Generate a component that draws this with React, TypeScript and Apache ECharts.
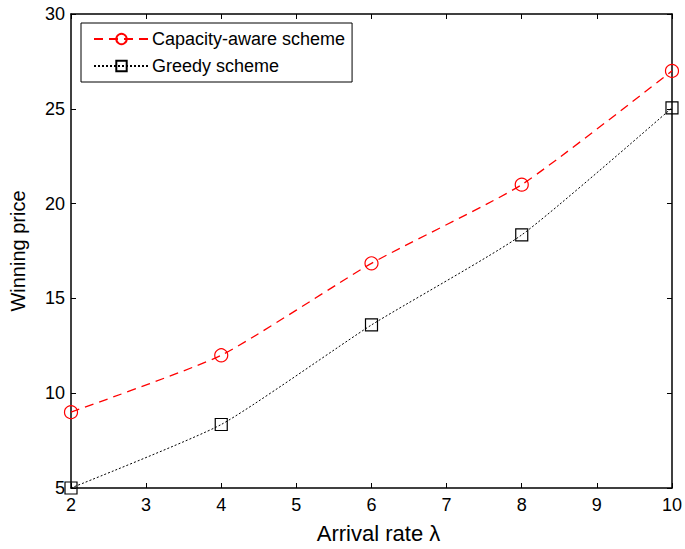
import React, { useEffect, useRef } from "react";
import * as echarts from "echarts";

const xValues = [2, 4, 6, 8, 10];
const capacityAware = [9, 12, 16.85, 21, 27];
const greedy = [5, 8.35, 13.6, 18.35, 25.05];
const seriesNames = ["Capacity-aware scheme", "Greedy scheme"];

export default function App() {
  const ref = useRef<HTMLDivElement>(null);
  useEffect(() => {
    if (!ref.current) return;
    const chart = echarts.init(ref.current, null, { renderer: "svg" });
    const font = "Liberation Sans, Arial, sans-serif";
    const axisCommon = {
      axisLine: { show: true, onZero: false, lineStyle: { color: "#000", width: 1.5 } },
      axisTick: { show: true, inside: true, length: 5, lineStyle: { color: "#000", width: 1 } },
      splitLine: { show: false },
    };
    chart.setOption({
      animation: false,
      backgroundColor: "#fff",
      grid: { left: 71, right: 11, top: 14, bottom: 60 },
      legend: {
        left: 81,
        top: 23,
        orient: "vertical",
        backgroundColor: "#fff",
        borderColor: "#000",
        borderWidth: 1,
        borderRadius: 0,
        padding: [7, 7, 7, 12],
        itemWidth: 55,
        itemHeight: 13,
        itemGap: 9,
        textStyle: { fontFamily: font, fontSize: 18, color: "#000", padding: [0, 0, 0, -2] },
        data: seriesNames,
      },
      xAxis: [
        {
          type: "value",
          min: 2,
          max: 10,
          interval: 1,
          name: "Arrival rate λ",
          nameLocation: "middle",
          nameGap: 34,
          nameTextStyle: { fontFamily: font, fontSize: 22, color: "#000", padding: [0, 0, 0, 14] },
          axisLabel: { fontFamily: font, fontSize: 18, color: "#000", margin: 8 },
          ...axisCommon,
        },
        {
          type: "value",
          position: "top",
          min: 2,
          max: 10,
          interval: 1,
          axisLabel: { show: false },
          ...axisCommon,
        },
      ],
      yAxis: [
        {
          type: "value",
          min: 5,
          max: 30,
          interval: 5,
          name: "Winning price",
          nameLocation: "middle",
          nameGap: 43,
          nameTextStyle: { fontFamily: font, fontSize: 20, color: "#000" },
          axisLabel: { fontFamily: font, fontSize: 18, color: "#000", margin: 6 },
          ...axisCommon,
        },
        {
          type: "value",
          position: "right",
          min: 5,
          max: 30,
          interval: 5,
          axisLabel: { show: false },
          ...axisCommon,
        },
      ],
      series: [
        {
          name: seriesNames[0],
          type: "line",
          data: xValues.map((x, i) => [x, capacityAware[i]]),
          smooth: 0.18,
          symbol: "circle",
          symbolSize: 13,
          showSymbol: true,
          itemStyle: { color: "rgba(255,255,255,0)", borderColor: "#ff0000", borderWidth: 1.2 },
          lineStyle: { color: "#ff0000", width: 1.3, type: [9, 6] },
          color: "#ff0000",
        },
        {
          name: seriesNames[1],
          type: "line",
          data: xValues.map((x, i) => [x, greedy[i]]),
          smooth: 0.18,
          symbol: "rect",
          symbolSize: 12,
          showSymbol: true,
          itemStyle: { color: "rgba(255,255,255,0)", borderColor: "#000", borderWidth: 1.2 },
          lineStyle: { color: "#000", width: 1, type: [2, 2] },
          color: "#000",
        },
      ],
    });
    return () => chart.dispose();
  }, []);
  return <div ref={ref} style={{ width: 685, height: 549, position: "absolute", left: 0, top: 0 }} />;
}
